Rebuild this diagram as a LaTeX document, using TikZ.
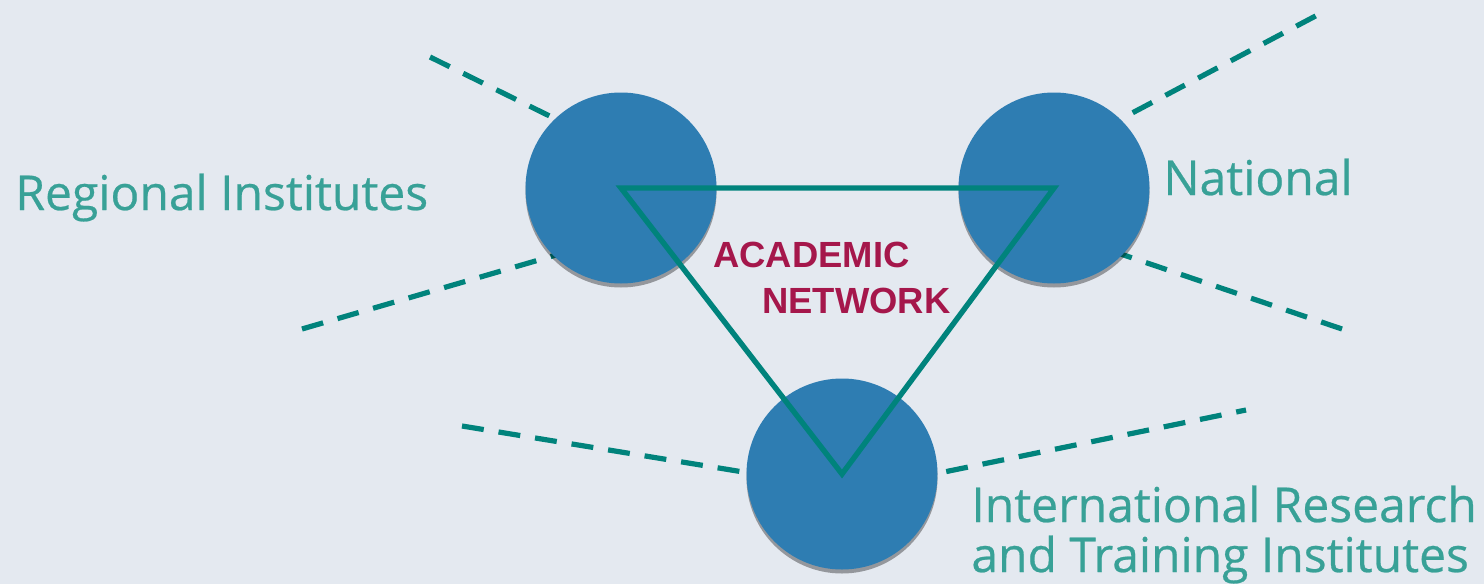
\documentclass[tikz,border=0pt]{standalone}
\usepackage{fontspec}
\setmainfont{Open Sans}[Ligatures=NoCommon]
\newfontfamily\labelfont{Open Sans}[Ligatures=NoCommon, FakeBold=0.5]
\newfontfamily\arialbold{Liberation Sans}[BoldFont={* Bold}]
\usetikzlibrary{shadows}
\definecolor{bgcol}{HTML}{E4E9F0}
\definecolor{discblue}{HTML}{2E7DB2}
\definecolor{linkteal}{HTML}{00837C}
\definecolor{labelteal}{HTML}{38A197}
\definecolor{crimson}{HTML}{A5174B}
\tikzset{
  disc/.style={circle, minimum size=95.5pt, inner sep=0pt, fill=discblue,
    drop shadow={shadow xshift=0pt, shadow yshift=-2pt, opacity=0.35, fill=black}},
  spoke/.style={draw=linkteal, line width=2.6pt, dash pattern=on 11pt off 7.5pt},
  link/.style={draw=linkteal, line width=2.7pt, line join=miter},
  label/.style={text=labelteal, font=\labelfont\fontsize{24}{25}\selectfont, inner sep=0pt},
  title/.style={text=crimson, font=\arialbold\bfseries\fontsize{18.2}{23}\selectfont, inner sep=0pt}
}
\begin{document}
\begin{tikzpicture}[x=0.5pt, y=-0.5pt]
\fill[bgcol] (0,0) rectangle (1484,584);
\useasboundingbox (0,0) rectangle (1484,584);
% free ends of dashed spokes
\coordinate (lt) at (430,57);
\coordinate (lti) at (580,131);
\coordinate (lb) at (302,329);
\coordinate (lbi) at (580,248);
\coordinate (rt) at (1325,11);
\coordinate (rti) at (1100,130);
\coordinate (rb) at (1342,329);
\coordinate (rbi) at (1100,247);
\coordinate (bl) at (462,426);
\coordinate (bli) at (780,478);
\coordinate (br) at (1246,410);
\coordinate (bri) at (910,479);
\draw[spoke] (lt) -- (lti);
\draw[spoke] (lb) -- (lbi);
\draw[spoke] (rti) -- (rt);
\draw[spoke] (rb) -- (rbi);
\draw[spoke] (bl) -- (bli);
\draw[spoke] (bri) -- (br);
% discs
\node[disc] (L) at (621,188) {};
\node[disc] (R) at (1054,188) {};
\node[disc] (B) at (842,474) {};
% triangle
\draw[link] (L.center) -- (R.center) -- (B.center) -- cycle;
% labels
\node[label, anchor=base west] (lreg) at (15,210) {Regional Institutes};
\node[label, anchor=base west] (lnat) at (1163,195) {National};
\node[label, anchor=base west] (lint1) at (971,522) {International Research};
\node[label, anchor=base west] (lint2) at (971,572) {and Training Institutes};
\node[title, anchor=base west] (tac) at (713,267) {ACADEMIC};
\node[title, anchor=base west] (tnet) at (762,313) {NETWORK};
\end{tikzpicture}
\end{document}
